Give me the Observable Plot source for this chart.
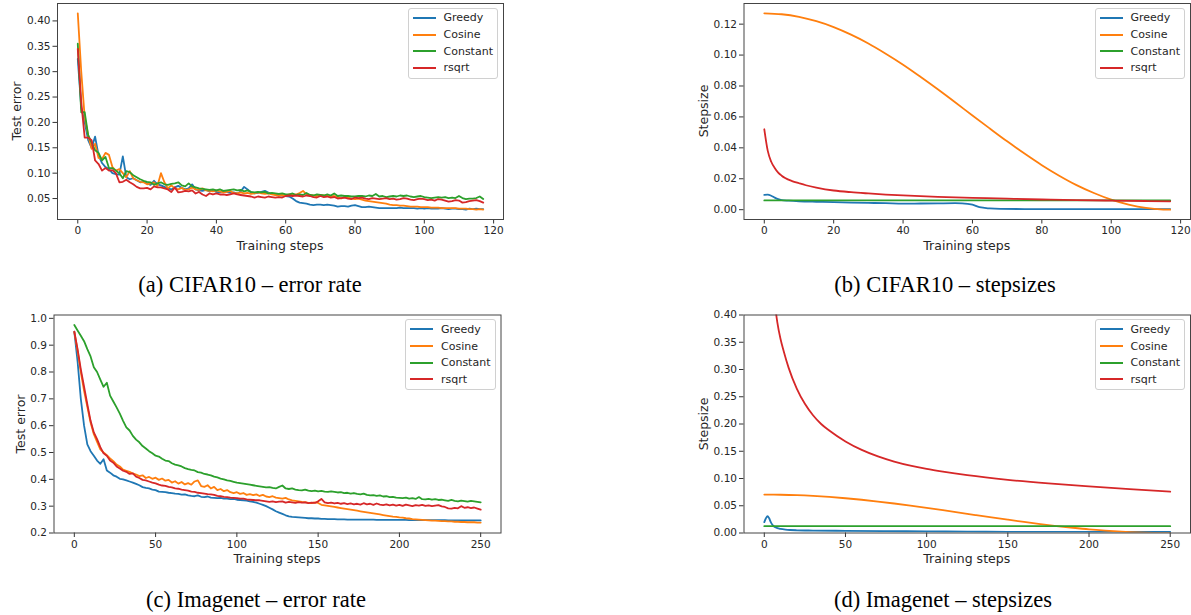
<!DOCTYPE html>
<html>
<head>
<meta charset="utf-8">
<script src="https://cdn.jsdelivr.net/npm/d3@7"></script>
<script src="https://cdn.jsdelivr.net/npm/@observablehq/plot@0.6"></script>
<style>
  html, body { margin: 0; padding: 0; background: #fff; }
  #root { position: relative; width: 1191px; height: 615px; overflow: hidden; background: #fff; }
  .cap { position: absolute; font-family: "Liberation Serif", "Times New Roman", serif; font-size: 22.5px; color: #000; white-space: nowrap; transform: translate(-50%, -50%); }
  .axl { position: absolute; font-family: "DejaVu Sans", sans-serif; font-size: 12.5px; color: #262626; white-space: nowrap; }
  .legend { position: absolute; box-sizing: border-box; border: 1px solid #d0d0d0; border-radius: 3px; background: rgba(255,255,255,0.85); padding: 1px 0 0 0; font-family: "DejaVu Sans", sans-serif; font-size: 11px; color: #262626; }
  .legend .row { height: 16.7px; display: flex; align-items: center; }
  .legend .sw { width: 23px; height: 2px; margin-left: 4px; margin-right: 8px; }
</style>
</head>
<body>
<div id="root"></div>
<script>
// ---------- shared ----------
const seriesNames = ["Greedy", "Cosine", "Constant", "rsqrt"];
const seriesColors = ["#1f77b4", "#ff7f0e", "#2ca02c", "#d62728"];

// ---------- (a) CIFAR10 – error rate (steps 0..117) ----------
const cifarErrSteps = d3.range(0, 118);
const cifarErrGreedy = [0.325,0.23,0.20,0.165,0.15,0.172,0.135,0.12,0.112,0.108,
 0.100,0.098,0.097,0.133,0.092,0.088,0.090,0.086,0.082,0.083,
 0.080,0.077,0.085,0.078,0.076,0.073,0.070,0.068,0.072,0.075,
 0.071,0.068,0.070,0.078,0.068,0.066,0.065,0.067,0.064,0.066,
 0.063,0.062,0.065,0.063,0.061,0.062,0.060,0.064,0.073,0.068,
 0.062,0.060,0.061,0.063,0.065,0.062,0.059,0.058,0.057,0.056,
 0.055,0.054,0.050,0.045,0.042,0.041,0.040,0.038,0.037,0.038,
 0.038,0.037,0.038,0.037,0.036,0.034,0.035,0.035,0.034,0.036,
 0.037,0.035,0.033,0.033,0.034,0.033,0.032,0.031,0.031,0.031,
 0.031,0.031,0.031,0.032,0.031,0.031,0.031,0.031,0.030,0.031,
 0.030,0.031,0.030,0.030,0.030,0.031,0.030,0.029,0.030,0.030,
 0.029,0.029,0.028,0.030,0.029,0.030,0.029,0.029];
const cifarErrCosine = [0.415,0.30,0.21,0.175,0.148,0.158,0.130,0.128,0.140,0.136,
 0.112,0.105,0.108,0.100,0.092,0.104,0.090,0.086,0.083,0.082,
 0.078,0.080,0.082,0.075,0.100,0.082,0.070,0.076,0.070,0.068,
 0.071,0.067,0.068,0.072,0.068,0.067,0.070,0.066,0.065,0.064,
 0.066,0.064,0.062,0.063,0.065,0.061,0.060,0.062,0.060,0.061,
 0.059,0.060,0.062,0.060,0.059,0.060,0.058,0.057,0.056,0.057,
 0.056,0.058,0.057,0.058,0.061,0.065,0.058,0.057,0.056,0.055,
 0.057,0.056,0.055,0.054,0.055,0.053,0.050,0.053,0.052,0.050,
 0.049,0.050,0.048,0.046,0.045,0.044,0.043,0.042,0.041,0.040,
 0.038,0.037,0.037,0.036,0.036,0.035,0.034,0.034,0.034,0.033,
 0.033,0.033,0.032,0.032,0.032,0.031,0.031,0.031,0.031,0.031,
 0.030,0.030,0.030,0.029,0.029,0.028,0.029,0.028];
const cifarErrConstant = [0.355,0.22,0.22,0.175,0.160,0.145,0.140,0.125,0.132,0.110,
 0.110,0.105,0.100,0.090,0.104,0.102,0.096,0.092,0.088,0.085,
 0.083,0.082,0.077,0.080,0.082,0.078,0.077,0.079,0.080,0.082,
 0.076,0.074,0.080,0.074,0.072,0.070,0.069,0.068,0.067,0.068,
 0.066,0.068,0.065,0.066,0.067,0.068,0.066,0.067,0.064,0.066,
 0.063,0.062,0.063,0.062,0.063,0.060,0.061,0.060,0.059,0.060,
 0.058,0.058,0.060,0.057,0.058,0.057,0.061,0.057,0.056,0.058,
 0.057,0.056,0.058,0.056,0.060,0.055,0.056,0.055,0.055,0.054,
 0.054,0.055,0.055,0.054,0.056,0.055,0.059,0.054,0.055,0.053,
 0.054,0.055,0.054,0.056,0.055,0.056,0.054,0.053,0.054,0.055,
 0.053,0.052,0.051,0.052,0.053,0.052,0.053,0.051,0.052,0.051,
 0.055,0.051,0.049,0.050,0.050,0.051,0.054,0.049];
const cifarErrRsqrt = [0.345,0.24,0.17,0.17,0.165,0.125,0.118,0.105,0.110,0.105,
 0.106,0.100,0.082,0.083,0.087,0.082,0.078,0.073,0.070,0.070,
 0.071,0.068,0.074,0.072,0.072,0.070,0.068,0.063,0.072,0.062,
 0.063,0.065,0.064,0.066,0.060,0.063,0.058,0.055,0.060,0.058,
 0.060,0.058,0.058,0.057,0.058,0.060,0.058,0.057,0.056,0.055,
 0.054,0.052,0.054,0.053,0.052,0.054,0.053,0.052,0.053,0.052,
 0.055,0.056,0.055,0.056,0.055,0.054,0.056,0.055,0.053,0.052,
 0.055,0.053,0.054,0.052,0.053,0.050,0.051,0.052,0.050,0.049,
 0.052,0.051,0.052,0.050,0.049,0.051,0.050,0.049,0.050,0.051,
 0.049,0.050,0.048,0.049,0.051,0.050,0.048,0.047,0.049,0.050,
 0.049,0.047,0.048,0.046,0.049,0.048,0.046,0.044,0.045,0.047,
 0.046,0.042,0.043,0.045,0.046,0.047,0.045,0.042];

// ---------- (b) CIFAR10 – stepsizes ----------
const cifarStepGreedySteps = [0,1,2,3,4,5,7,10,15,20,25,30,35,40,45,50,55,57,60,62,65,68,75,85,100,117];
const cifarStepGreedy = [0.0096,0.0097,0.0090,0.0078,0.0068,0.0062,0.0058,0.0054,0.0051,0.0049,0.0046,0.0044,0.0042,0.0039,0.0040,0.0041,0.0042,0.0041,0.0032,0.0016,0.0008,0.0005,0.0004,0.0003,0.0003,0.0003];
const cifarStepCosineSteps = [0,5,10,15,20,25,30,35,40,45,50,55,60,65,70,75,80,85,90,95,100,105,110,115,117];
const cifarStepCosine = [0.1270,0.1264,0.1247,0.1219,0.1181,0.1132,0.1075,0.1009,0.0938,0.0860,0.0779,0.0695,0.0609,0.0525,0.0442,0.0363,0.0288,0.0220,0.0159,0.0108,0.0065,0.0033,0.0011,0.0001,0.0000];
const cifarStepConstantSteps = [0,117];
const cifarStepConstant = [0.006,0.006];
const cifarStepRsqrtSteps = [0,1,2,3,4,5,6,8,10,12,15,20,25,30,35,40,50,60,70,80,90,100,110,117];
const cifarStepRsqrt = [0.052,0.038,0.031,0.027,0.024,0.022,0.0205,0.0185,0.0171,0.0158,0.0143,0.0124,0.0113,0.0105,0.0098,0.0092,0.0083,0.0077,0.0071,0.0066,0.0062,0.0059,0.0056,0.0054];

// ---------- (c) Imagenet – error rate (every 2nd step, 0..250) ----------
const imgErrSteps = d3.range(0, 251, 2);
const imgErrGreedy = [0.950,0.840,0.700,0.600,0.530,0.505,0.488,0.470,0.458,0.475,
 0.433,0.425,0.415,0.410,0.402,0.400,0.396,0.392,0.388,0.383,
 0.378,0.371,0.368,0.366,0.362,0.360,0.354,0.353,0.352,0.350,
 0.349,0.347,0.346,0.343,0.344,0.340,0.338,0.337,0.340,0.335,
 0.334,0.336,0.332,0.331,0.330,0.331,0.328,0.328,0.326,0.327,
 0.324,0.323,0.322,0.321,0.318,0.316,0.313,0.309,0.305,0.300,
 0.294,0.288,0.281,0.276,0.271,0.266,0.262,0.260,0.259,0.258,
 0.257,0.256,0.255,0.255,0.254,0.254,0.253,0.253,0.252,0.252,
 0.252,0.251,0.251,0.251,0.250,0.250,0.250,0.250,0.250,0.250,
 0.250,0.250,0.250,0.249,0.249,0.249,0.249,0.249,0.249,0.249,
 0.249,0.249,0.249,0.248,0.248,0.248,0.248,0.248,0.248,0.248,
 0.248,0.248,0.248,0.248,0.248,0.247,0.247,0.247,0.247,0.247,
 0.247,0.247,0.247,0.247,0.247,0.247];
const imgErrCosine = [0.950,0.880,0.800,0.730,0.670,0.612,0.568,0.540,0.512,0.500,
 0.490,0.478,0.468,0.455,0.448,0.436,0.432,0.428,0.422,0.418,
 0.412,0.415,0.405,0.409,0.402,0.406,0.398,0.403,0.395,0.398,
 0.388,0.393,0.384,0.390,0.381,0.386,0.380,0.392,0.396,0.375,
 0.372,0.378,0.366,0.372,0.360,0.364,0.356,0.360,0.352,0.349,
 0.352,0.346,0.349,0.342,0.345,0.341,0.344,0.338,0.342,0.336,
 0.334,0.337,0.332,0.330,0.328,0.331,0.325,0.322,0.320,0.318,
 0.316,0.315,0.312,0.311,0.314,0.312,0.305,0.303,0.301,0.299,
 0.297,0.295,0.293,0.291,0.289,0.287,0.285,0.283,0.281,0.279,
 0.277,0.275,0.273,0.271,0.269,0.267,0.265,0.263,0.261,0.260,
 0.258,0.257,0.255,0.254,0.252,0.251,0.250,0.249,0.248,0.247,
 0.246,0.246,0.245,0.244,0.244,0.243,0.243,0.242,0.242,0.241,
 0.241,0.240,0.240,0.240,0.239,0.239];
const imgErrConstant = [0.975,0.955,0.935,0.915,0.885,0.858,0.818,0.800,0.772,0.745,
 0.760,0.712,0.690,0.668,0.645,0.618,0.594,0.582,0.562,0.548,
 0.538,0.524,0.515,0.505,0.497,0.488,0.485,0.477,0.470,0.468,
 0.460,0.455,0.452,0.448,0.442,0.438,0.435,0.433,0.427,0.425,
 0.420,0.418,0.415,0.410,0.407,0.403,0.400,0.396,0.394,0.391,
 0.388,0.386,0.384,0.382,0.380,0.378,0.376,0.374,0.372,0.370,
 0.371,0.368,0.366,0.372,0.377,0.366,0.364,0.366,0.362,0.360,
 0.359,0.362,0.358,0.356,0.358,0.355,0.357,0.354,0.353,0.355,
 0.353,0.351,0.352,0.349,0.350,0.347,0.349,0.346,0.344,0.347,
 0.342,0.340,0.341,0.338,0.340,0.336,0.337,0.334,0.335,0.332,
 0.331,0.330,0.332,0.328,0.330,0.327,0.334,0.326,0.325,0.327,
 0.324,0.326,0.323,0.324,0.322,0.320,0.323,0.320,0.318,0.321,
 0.319,0.317,0.320,0.318,0.316,0.314];
const imgErrRsqrt = [0.950,0.885,0.810,0.745,0.680,0.618,0.575,0.550,0.520,0.497,
 0.488,0.470,0.462,0.448,0.440,0.432,0.428,0.420,0.422,0.410,
 0.405,0.398,0.396,0.392,0.388,0.385,0.380,0.377,0.376,0.372,
 0.370,0.366,0.365,0.362,0.360,0.358,0.354,0.353,0.350,0.349,
 0.347,0.345,0.344,0.342,0.338,0.337,0.335,0.334,0.332,0.331,
 0.330,0.328,0.328,0.325,0.324,0.323,0.322,0.322,0.320,0.318,
 0.316,0.318,0.315,0.317,0.318,0.313,0.316,0.314,0.312,0.315,
 0.313,0.314,0.311,0.313,0.312,0.318,0.327,0.314,0.311,0.313,
 0.310,0.312,0.309,0.311,0.308,0.310,0.307,0.309,0.306,0.311,
 0.307,0.309,0.305,0.310,0.306,0.304,0.307,0.303,0.306,0.302,
 0.305,0.301,0.306,0.303,0.300,0.304,0.302,0.305,0.301,0.303,
 0.300,0.302,0.304,0.299,0.297,0.292,0.291,0.294,0.292,0.300,
 0.294,0.296,0.293,0.295,0.291,0.287];

// ---------- (d) Imagenet – stepsizes ----------
const imgStepGreedySteps = [0,1,2,3,4,5,6,8,10,13,16,20,30,50,75,100,125,150,200,250];
const imgStepGreedy = [0.020,0.027,0.031,0.027,0.020,0.015,0.012,0.009,0.0075,0.0062,0.0055,0.005,0.0045,0.004,0.0035,0.003,0.0025,0.0022,0.002,0.002];
const imgStepCosineSteps = [0,10,20,30,40,50,60,70,80,90,100,110,120,130,140,150,160,170,180,190,200,210,220,230,240,250];
const imgStepCosine = [0.0705,0.0702,0.0694,0.0680,0.0661,0.0638,0.0610,0.0577,0.0541,0.0503,0.0461,0.0419,0.0375,0.0330,0.0286,0.0244,0.0203,0.0164,0.0128,0.0096,0.0067,0.0044,0.0025,0.0011,0.0003,0.0000];
const imgStepConstantSteps = [0,250];
const imgStepConstant = [0.0125,0.0125];
const imgStepRsqrtSteps = [0,1,2,3,4,5,6,8,10,12,15,20,25,30,35,40,50,60,70,80,90,100,110,125,150,175,200,225,250];
const imgStepRsqrt = [0.93,0.74,0.63,0.56,0.505,0.466,0.435,0.387,0.356,0.333,0.303,0.265,0.237,0.216,0.200,0.188,0.168,0.1525,0.1405,0.131,0.1235,0.1175,0.1125,0.106,0.0975,0.091,0.0855,0.0805,0.076];

// ---------- tick labels ----------
const xTicksCifar = [0,20,40,60,80,100,120];
const xTicksImg = [0,50,100,150,200,250];
const yTicksA = [0.05,0.10,0.15,0.20,0.25,0.30,0.35,0.40];
const yTicksB = [0.00,0.02,0.04,0.06,0.08,0.10,0.12];
const yTicksC = [0.2,0.3,0.4,0.5,0.6,0.7,0.8,0.9,1.0];
const yTicksD = [0.00,0.05,0.10,0.15,0.20,0.25,0.30,0.35,0.40];

const captions = ["(a) CIFAR10 – error rate", "(b) CIFAR10 – stepsizes", "(c) Imagenet – error rate", "(d) Imagenet – stepsizes"];

// ---------- drawing ----------
const root = document.getElementById("root");

function toRows(steps, values) { return steps.map((s, i) => ({step: s, value: values[i]})); }

function panel(cfg) {
  const {left, top, width, height, mL, mR, mT, mB, xDomain, xTicks, yDomain, yTicks, yFmt, series, curve, yLabel, caption, capX, capY, yLabelX} = cfg;
  const svg = Plot.plot({
    width, height,
    marginLeft: mL, marginRight: mR, marginTop: mT, marginBottom: mB,
    style: {fontFamily: "'DejaVu Sans', sans-serif", fontSize: "10.5px", color: "#262626", background: "transparent", overflow: "visible"},
    x: {domain: xDomain},
    y: {domain: yDomain},
    marks: [
      ...series.map(s => Plot.line(toRows(s.steps, s.values), {x: "step", y: "value", stroke: s.color, strokeWidth: 1.8, curve, clip: true})),
      Plot.axisX({ticks: xTicks, tickSize: 4.5, tickPadding: 3, label: null, tickFormat: d => String(d), stroke: "#333"}),
      Plot.axisY({ticks: yTicks, tickSize: 4.5, tickPadding: 2.5, label: null, tickFormat: d3.format(yFmt), stroke: "#333"}),
      Plot.frame({stroke: "#444", strokeWidth: 1})
    ]
  });
  svg.style.position = "absolute";
  svg.style.left = left + "px";
  svg.style.top = top + "px";
  root.appendChild(svg);

  const fx0 = left + mL, fx1 = left + width - mR, fy0 = top + mT, fy1 = top + height - mB;
  const xl = document.createElement("div");
  xl.className = "axl";
  xl.textContent = "Training steps";
  xl.style.left = ((fx0 + fx1) / 2) + "px";
  xl.style.top = (fy1 + 25.5) + "px";
  xl.style.transform = "translate(-50%, -50%)";
  root.appendChild(xl);
  const yl = document.createElement("div");
  yl.className = "axl";
  yl.textContent = yLabel;
  yl.style.left = yLabelX + "px";
  yl.style.top = ((fy0 + fy1) / 2) + "px";
  yl.style.transform = "translate(-50%, -50%) rotate(-90deg)";
  root.appendChild(yl);
  const lg = document.createElement("div");
  lg.className = "legend";
  lg.style.width = "90.5px";
  lg.style.height = "71px";
  lg.style.left = (fx1 - 5 - 90.5) + "px";
  lg.style.top = (fy0 + 4.5) + "px";
  series.forEach(s => {
    const r = document.createElement("div");
    r.className = "row";
    const sw = document.createElement("span");
    sw.className = "sw";
    sw.style.background = s.color;
    const t = document.createElement("span");
    t.textContent = s.name;
    r.appendChild(sw); r.appendChild(t);
    lg.appendChild(r);
  });
  root.appendChild(lg);
  const cp = document.createElement("div");
  cp.className = "cap";
  cp.textContent = caption;
  cp.style.left = capX + "px";
  cp.style.top = capY + "px";
  root.appendChild(cp);
}

function mk(stepsList, valuesList) {
  return seriesNames.map((n, i) => ({name: n, color: seriesColors[i], steps: stepsList[i], values: valuesList[i]}));
}

panel({
  left: 0, top: 0, width: 510, height: 255, mL: 57, mR: 7, mT: 3, mB: 36,
  xDomain: [-5.85, 122.85], xTicks: xTicksCifar, yDomain: [0.0087, 0.4343], yTicks: yTicksA, yFmt: ".2f",
  series: mk([cifarErrSteps, cifarErrSteps, cifarErrSteps, cifarErrSteps], [cifarErrGreedy, cifarErrCosine, cifarErrConstant, cifarErrRsqrt]),
  curve: "linear", yLabel: "Test error", caption: captions[0], capX: 250, capY: 285, yLabelX: 15.5
});
panel({
  left: 690, top: 0, width: 501, height: 255, mL: 53.5, mR: 1, mT: 3, mB: 36,
  xDomain: [-5.85, 122.85], xTicks: xTicksCifar, yDomain: [-0.00635, 0.13335], yTicks: yTicksB, yFmt: ".2f",
  series: mk([cifarStepGreedySteps, cifarStepCosineSteps, cifarStepConstantSteps, cifarStepRsqrtSteps], [cifarStepGreedy, cifarStepCosine, cifarStepConstant, cifarStepRsqrt]),
  curve: "monotone-x", yLabel: "Stepsize", caption: captions[1], capX: 945, capY: 285, yLabelX: 703
});
panel({
  left: 0, top: 305, width: 510, height: 265, mL: 53.5, mR: 9.5, mT: 9.5, mB: 37.5,
  xDomain: [-12.5, 262.5], xTicks: xTicksImg, yDomain: [0.2, 1.0125], yTicks: yTicksC, yFmt: ".1f",
  series: mk([imgErrSteps, imgErrSteps, imgErrSteps, imgErrSteps], [imgErrGreedy, imgErrCosine, imgErrConstant, imgErrRsqrt]),
  curve: "linear", yLabel: "Test error", caption: captions[2], capX: 256, capY: 600, yLabelX: 20
});
panel({
  left: 690, top: 305, width: 501, height: 265, mL: 53.5, mR: 1, mT: 9.5, mB: 37.5,
  xDomain: [-12.5, 262.5], xTicks: xTicksImg, yDomain: [0, 0.4], yTicks: yTicksD, yFmt: ".2f",
  series: mk([imgStepGreedySteps, imgStepCosineSteps, imgStepConstantSteps, imgStepRsqrtSteps], [imgStepGreedy, imgStepCosine, imgStepConstant, imgStepRsqrt]),
  curve: "monotone-x", yLabel: "Stepsize", caption: captions[3], capX: 943, capY: 600, yLabelX: 703
});
</script>
</body>
</html>
